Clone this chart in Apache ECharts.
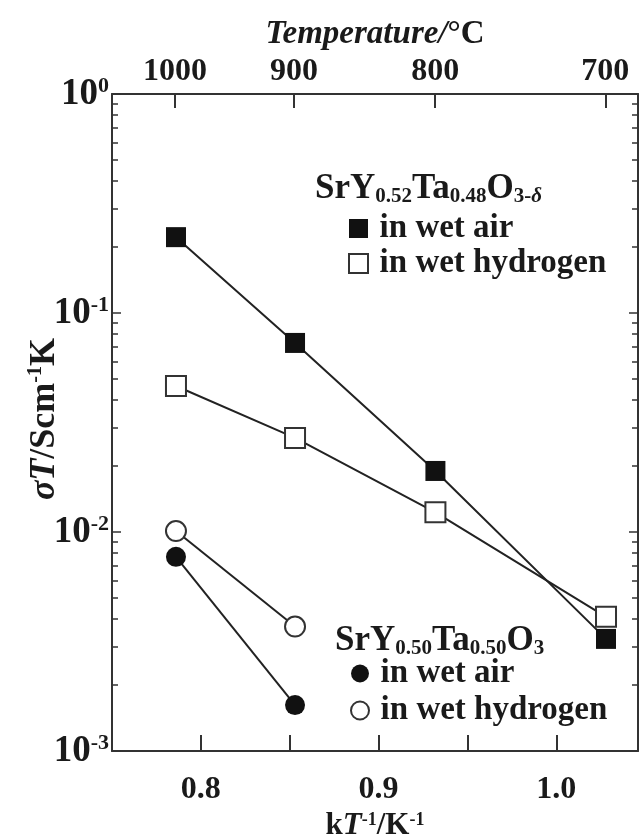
<!DOCTYPE html>
<html>
<head>
<meta charset="utf-8">
<title>Conductivity of SrY(1+x)/2Ta(1-x)/2O3</title>
<script src="https://cdn.jsdelivr.net/npm/echarts@6/dist/echarts.min.js"></script>
<style>
  html, body { margin: 0; padding: 0; background: #fff; }
  #chart { width: 641px; height: 835px; }
</style>
</head>
<body>
<div id="chart"></div>
<script>
// Temperatures marked on the top axis (°C)
const tempLabels = [1000, 900, 800, 700];
// kT^-1 (1000/T, K^-1) at each measuring temperature
const invT52 = [0.786, 0.853, 0.932, 1.028];
const invT50 = [0.786, 0.853];
// sigma*T (S cm^-1 K), SrY0.52Ta0.48O3-d
const wetAir52 = [0.222, 0.073, 0.019, 0.00325];
const wetH252 = [0.0464, 0.0269, 0.0123, 0.0041];
// sigma*T (S cm^-1 K), SrY0.50Ta0.50O3
const wetAir50 = [0.0077, 0.00162];
const wetH250 = [0.0101, 0.0037];
// bottom axis ticks and labels
const bottomTicks = [0.8, 0.85, 0.9, 0.95, 1.0];
const bottomLabels = [0.8, 0.9, 1.0];
// y axis decades
const yDecades = [0.001, 0.01, 0.1, 1];

const SERIF = '"Liberation Serif", "Times New Roman", serif';
const INK = '#1a1a1a';
const X_MIN = 0.75, X_MAX = 1.046;
const THIN = '\u2009';

const topTicks = tempLabels.map(t => 1000 / (t + 273.15));
const yMinor = [];
yDecades.slice(0, 3).forEach(d => { for (let k = 2; k <= 9; k++) yMinor.push(+(k * d).toPrecision(3)); });

const pairs = (xs, ys) => xs.map((x, i) => [x, ys[i]]);

const chart = echarts.init(document.getElementById('chart'), null, { renderer: 'canvas' });

const supRich = {
  b: { fontFamily: SERIF, fontWeight: 'bold', fontSize: 37, color: INK, lineHeight: 38 },
  p: { fontFamily: SERIF, fontWeight: 'bold', fontSize: 22, color: INK, verticalAlign: 'top', lineHeight: 12 }
};

const formulaRich = {
  m: { fontFamily: SERIF, fontWeight: 'bold', fontSize: 35, color: INK, lineHeight: 36 },
  s: { fontFamily: SERIF, fontWeight: 'bold', fontSize: 21, color: INK, verticalAlign: 'bottom', lineHeight: 14 },
  d: { fontFamily: SERIF, fontWeight: 'bold', fontStyle: 'italic', fontSize: 21, color: INK, verticalAlign: 'bottom', lineHeight: 14 }
};

const logAxisBase = { type: 'log', logBase: 10, min: 0.001, max: 1, gridIndex: 0, splitLine: { show: false } };
const legendText = { fontFamily: SERIF, fontWeight: 'bold', fontSize: 33, color: INK, lineHeight: 30 };

chart.setOption({
  animation: false,
  backgroundColor: '#fff',
  grid: { left: 112, right: 3, top: 94, bottom: 84, outerBoundsMode: 'none' },
  title: [
    {
      text: '{m|SrY}{s|0.52}{m|Ta}{s|0.48}{m|O}{s|3-}{d|δ}',
      left: 310, top: 166,
      textStyle: { rich: formulaRich }
    },
    {
      text: '{m|SrY}{s|0.50}{m|Ta}{s|0.50}{m|O}{s|3}',
      left: 330, top: 618,
      textStyle: { rich: formulaRich }
    }
  ],
  legend: [
    {
      orient: 'vertical', left: 343, top: 207, itemGap: 2, itemWidth: 19, itemHeight: 19,
      formatter: n => THIN + n.split('|')[1],
      textStyle: legendText,
      data: [
        { name: 'SrY0.52|in wet air', icon: 'rect', itemStyle: { color: '#111', borderWidth: 0 } },
        { name: 'SrY0.52|in wet hydrogen', icon: 'rect', itemStyle: { color: '#fff', borderColor: '#333', borderWidth: 2 } }
      ]
    },
    {
      orient: 'vertical', left: 345, top: 652, itemGap: 4, itemWidth: 18, itemHeight: 18,
      formatter: n => THIN + n.split('|')[1],
      textStyle: legendText,
      data: [
        { name: 'SrY0.50|in wet air', icon: 'circle', itemStyle: { color: '#111', borderWidth: 0 } },
        { name: 'SrY0.50|in wet hydrogen', icon: 'circle', itemStyle: { color: '#fff', borderColor: '#333', borderWidth: 2 } }
      ]
    }
  ],
  xAxis: [
    {
      type: 'value', position: 'bottom', min: X_MIN, max: X_MAX, gridIndex: 0,
      axisLine: { show: true, onZero: false, lineStyle: { color: '#333', width: 2 } },
      axisTick: { show: true, inside: true, length: 16, customValues: bottomTicks, lineStyle: { color: '#333', width: 2 } },
      axisLabel: {
        customValues: bottomLabels, margin: 23, formatter: v => v.toFixed(1),
        fontFamily: SERIF, fontWeight: 'bold', fontSize: 32, color: INK
      },
      splitLine: { show: false },
      name: '{n|k}{i|T}{p|-1}{n|/K}{p|-1}', nameLocation: 'middle', nameGap: 52,
      nameTextStyle: {
        rich: {
          n: { fontFamily: SERIF, fontWeight: 'bold', fontSize: 31, color: INK, lineHeight: 30 },
          i: { fontFamily: SERIF, fontWeight: 'bold', fontStyle: 'italic', fontSize: 31, color: INK, lineHeight: 30 },
          p: { fontFamily: SERIF, fontWeight: 'bold', fontSize: 18, color: INK, verticalAlign: 'top', lineHeight: 12 }
        }
      }
    },
    {
      type: 'value', position: 'top', min: X_MIN, max: X_MAX, gridIndex: 0,
      axisLine: { show: true, onZero: false, lineStyle: { color: '#333', width: 2 } },
      axisTick: { show: true, inside: true, length: 14, customValues: topTicks, lineStyle: { color: '#333', width: 2 } },
      axisLabel: {
        customValues: topTicks, margin: 6,
        formatter: v => String(Math.round(1000 / v - 273.15)),
        fontFamily: SERIF, fontWeight: 'bold', fontSize: 32, color: INK
      },
      splitLine: { show: false },
      name: '{i|Temperature/}{n|°C}', nameLocation: 'middle', nameGap: 33,
      nameTextStyle: {
        rich: {
          i: { fontFamily: SERIF, fontWeight: 'bold', fontStyle: 'italic', fontSize: 33, color: INK },
          n: { fontFamily: SERIF, fontWeight: 'bold', fontSize: 33, color: INK }
        }
      }
    }
  ],
  yAxis: [
    Object.assign({}, logAxisBase, {
      position: 'left',
      axisLine: { show: true, onZero: false, lineStyle: { color: '#333', width: 2 } },
      axisTick: { show: true, inside: true, length: 9, customValues: yDecades, lineStyle: { color: '#333', width: 1.5 } },
      axisLabel: {
        customValues: yDecades, margin: 3,
        formatter: v => '{b|10}{p|' + Math.round(Math.log10(v)) + '}',
        rich: supRich
      }
    }),
    Object.assign({}, logAxisBase, {
      position: 'left',
      axisLine: { show: false },
      axisTick: { show: true, inside: true, length: 6, customValues: yMinor, lineStyle: { color: '#333', width: 1.5 } },
      axisLabel: { show: false }
    }),
    Object.assign({}, logAxisBase, {
      position: 'right',
      axisLine: { show: true, onZero: false, lineStyle: { color: '#333', width: 2 } },
      axisTick: { show: true, inside: true, length: 9, customValues: yDecades, lineStyle: { color: '#333', width: 1.5 } },
      axisLabel: { show: false }
    }),
    Object.assign({}, logAxisBase, {
      position: 'right',
      axisLine: { show: false },
      axisTick: { show: true, inside: true, length: 6, customValues: yMinor, lineStyle: { color: '#333', width: 1.5 } },
      axisLabel: { show: false }
    })
  ],
  graphic: [
    {
      type: 'text', left: 26, top: 338, rotation: Math.PI / 2,
      style: {
        text: '{i|σT}{n|/Scm}{p|-1}{n|K}',
        rich: {
          i: { fontFamily: SERIF, fontWeight: 'bold', fontStyle: 'italic', fontSize: 36, fill: INK, lineHeight: 38 },
          n: { fontFamily: SERIF, fontWeight: 'bold', fontSize: 36, fill: INK, lineHeight: 38 },
          p: { fontFamily: SERIF, fontWeight: 'bold', fontSize: 20, fill: INK, verticalAlign: 'top', lineHeight: 14 }
        }
      }
    }
  ],
  series: [
    {
      name: 'SrY0.52|in wet air', type: 'line', xAxisIndex: 0, yAxisIndex: 0,
      data: pairs(invT52, wetAir52), symbol: 'rect', symbolSize: 20,
      itemStyle: { color: '#111' }, lineStyle: { color: '#222', width: 2 }, z: 3
    },
    {
      name: 'SrY0.52|in wet hydrogen', type: 'line', xAxisIndex: 0, yAxisIndex: 0,
      data: pairs(invT52, wetH252), symbol: 'rect', symbolSize: 20, showAllSymbol: true,
      itemStyle: { color: '#fff', borderColor: '#333', borderWidth: 2 }, lineStyle: { color: '#222', width: 2 }, z: 3
    },
    {
      name: 'SrY0.50|in wet air', type: 'line', xAxisIndex: 0, yAxisIndex: 0,
      data: pairs(invT50, wetAir50), symbol: 'circle', symbolSize: 20,
      itemStyle: { color: '#111' }, lineStyle: { color: '#222', width: 2 }, z: 3
    },
    {
      name: 'SrY0.50|in wet hydrogen', type: 'line', xAxisIndex: 0, yAxisIndex: 0,
      data: pairs(invT50, wetH250), symbol: 'circle', symbolSize: 20,
      itemStyle: { color: '#fff', borderColor: '#333', borderWidth: 2 }, lineStyle: { color: '#222', width: 2 }, z: 3
    }
  ]
});
</script>
</body>
</html>
